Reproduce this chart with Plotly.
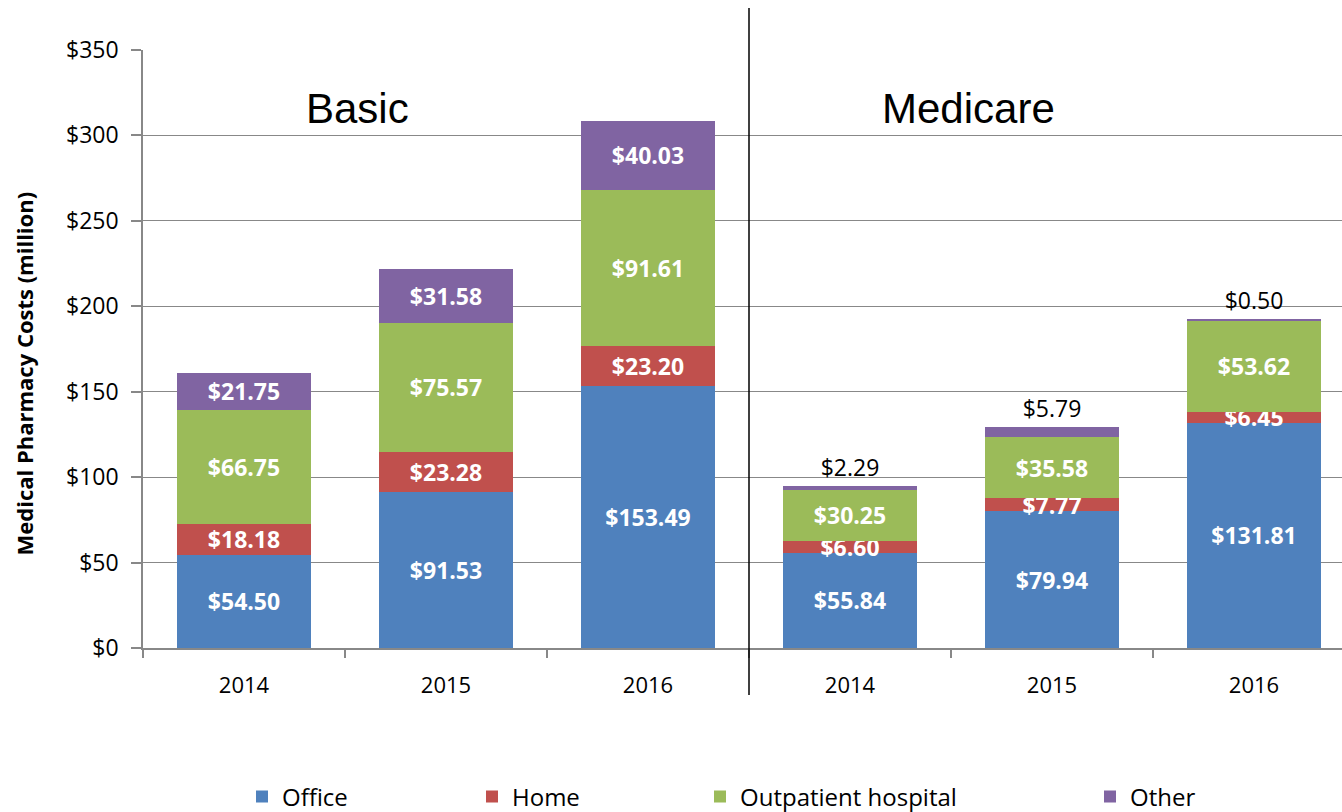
import plotly.graph_objects as go

years = ["2014", "2015", "2016", "2014", "2015", "2016"]
groups = ["Basic", "Medicare"]
office = [54.50, 91.53, 153.49, 55.84, 79.94, 131.81]
home = [18.18, 23.28, 23.20, 6.60, 7.77, 6.45]
outpatient = [66.75, 75.57, 91.61, 30.25, 35.58, 53.62]
other = [21.75, 31.58, 40.03, 2.29, 5.79, 0.50]
y_ticks = [0, 50, 100, 150, 200, 250, 300, 350]
y_ticktext = ["$0", "$50", "$100", "$150", "$200", "$250", "$300", "$350"]

FONT = "Open Sans"
xpos = list(range(len(years)))

series = [
    ("Office", office, "#4F81BD"),
    ("Home", home, "#C0504D"),
    ("Outpatient hospital", outpatient, "#9BBB59"),
    ("Other", other, "#8064A2"),
]
legend_ids = ["legend2", "legend3", "legend4", "legend5"]
legend_text_px = [282, 512, 740, 1130]

fig = go.Figure()
for i, (name, vals, color) in enumerate(series):
    if name == "Other":
        tpos = ["inside"] * 3 + ["outside"] * 3
    else:
        tpos = "inside"
    fig.add_trace(go.Bar(
        x=xpos, y=vals, name=name, marker=dict(color=color, line=dict(width=0)),
        texttemplate="$%{y:.2f}", textposition=tpos,
        insidetextanchor="middle", constraintext="none",
        insidetextfont=dict(family=FONT, size=23, color="white", weight="bold"),
        outsidetextfont=dict(family=FONT, size=23, color="black"),
        legend=legend_ids[i], showlegend=True,
    ))

PLOT_L, PLOT_R, PLOT_T, PLOT_B = 143, 1342, 50, 648
W = PLOT_R - PLOT_L
H = PLOT_B - PLOT_T

legends = {}
for i, lid in enumerate(legend_ids):
    legends[lid] = dict(
        x=(legend_text_px[i] - 40 - PLOT_L) / W, xanchor="left",
        y=(PLOT_B - 797) / H, yanchor="middle",
        orientation="h", font=dict(family=FONT, size=24, color="black"),
        bgcolor="rgba(0,0,0,0)",
    )

fig.update_layout(
    width=1342, height=812,
    margin=dict(l=PLOT_L, r=0, t=PLOT_T, b=812 - PLOT_B, autoexpand=False),
    barmode="stack", bargap=0.332,
    plot_bgcolor="white", paper_bgcolor="white",
    font=dict(family=FONT, size=22, color="black"),
    showlegend=True,
    **legends,
)

fig.update_xaxes(
    range=[-0.5, 5.5 - 13 / 202], tickmode="array", tickvals=xpos, ticktext=years,
    ticks="", showgrid=False, showline=True, linecolor="#888888", linewidth=1.5,
    tickfont=dict(family=FONT, size=22), ticklabelstandoff=17,
    minor=dict(tickmode="array", tickvals=[-0.5, 0.5, 1.5, 2.5, 3.5, 4.5],
               ticks="outside", ticklen=8, tickcolor="#888888", tickwidth=1.5),
)
fig.update_yaxes(
    range=[0, 350], tickmode="array", tickvals=y_ticks, ticktext=y_ticktext,
    showgrid=True, gridcolor="#888888", gridwidth=1.2,
    showline=True, linecolor="#888888", linewidth=1.5,
    ticks="outside", ticklen=10, tickcolor="#888888", tickwidth=1.5,
    tickfont=dict(family=FONT, size=23), zeroline=False, ticklabelstandoff=8,
)

fig.add_annotation(x=(23 - PLOT_L) / W, y=(PLOT_B - 373.5) / H, xref="paper", yref="paper",
                   text="<b>Medical Pharmacy Costs (million)</b>", textangle=-90,
                   showarrow=False, xanchor="center", yanchor="middle",
                   font=dict(family=FONT, size=22, color="black"))

fig.add_shape(type="line", xref="x", yref="paper", x0=2.5, x1=2.5,
              y0=(PLOT_B - 695) / H, y1=(PLOT_B - 8) / H,
              line=dict(color="black", width=1.5))

for label, xc in zip(groups, [0.56, 3.585]):
    fig.add_annotation(x=xc, y=316, xref="x", yref="y", text=label, showarrow=False,
                       font=dict(family="Liberation Sans", size=42, color="black"))

fig.write_html("out.html")
